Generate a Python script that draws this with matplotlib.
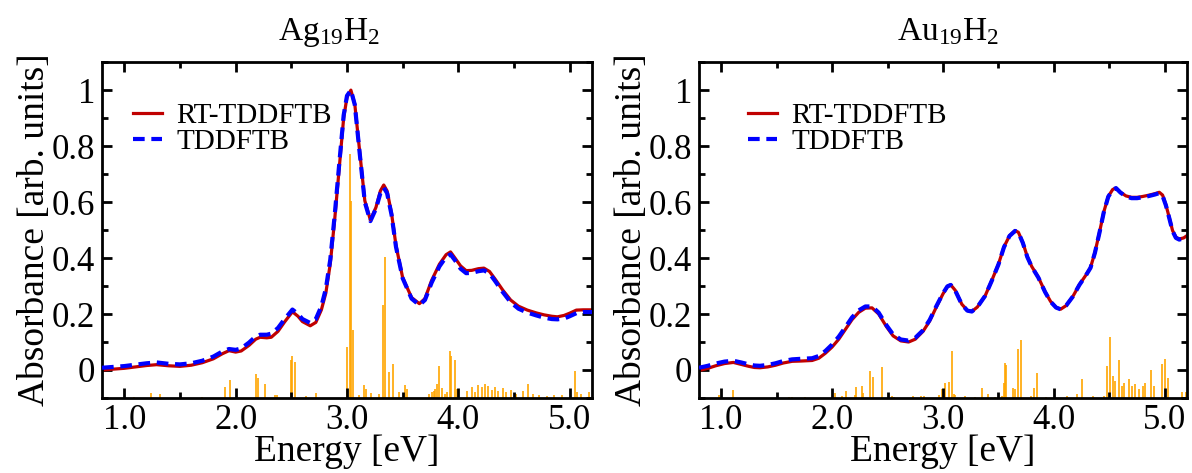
import numpy as np
import matplotlib
matplotlib.use("Agg")
import matplotlib.pyplot as plt
from matplotlib.ticker import MultipleLocator, FuncFormatter

plt.rcParams["font.family"] = ["Liberation Serif", "DejaVu Serif"]
plt.rcParams["mathtext.fontset"] = "custom"
plt.rcParams["mathtext.rm"] = "Liberation Serif"
plt.rcParams["mathtext.it"] = "Liberation Serif:italic"

# ---- Ag19H2 spectra ----
ag_e = [0.80, 0.90, 1.00, 1.10, 1.20, 1.29, 1.40, 1.50, 1.60, 1.70, 1.80, 1.88, 1.94,
        2.00, 2.05, 2.12, 2.18, 2.22, 2.28, 2.32, 2.38, 2.44, 2.51, 2.56, 2.60, 2.67,
        2.72, 2.77, 2.81, 2.85, 2.89, 2.93, 2.97, 3.00, 3.035, 3.07, 3.11, 3.16, 3.21,
        3.26, 3.30, 3.33, 3.36, 3.40, 3.44, 3.50, 3.58, 3.65, 3.70, 3.76, 3.83, 3.89,
        3.93, 3.97, 4.02, 4.07, 4.12, 4.18, 4.23, 4.28, 4.33, 4.40, 4.47, 4.54, 4.62,
        4.70, 4.77, 4.84, 4.89, 4.95, 5.00, 5.06, 5.12, 5.20]
ag_rt = [0.000, 0.003, 0.006, 0.011, 0.016, 0.019, 0.015, 0.013, 0.017, 0.026, 0.040, 0.058, 0.069,
         0.064, 0.068, 0.088, 0.110, 0.117, 0.115, 0.117, 0.138, 0.172, 0.208, 0.192, 0.173, 0.158,
         0.170, 0.215, 0.275, 0.380, 0.540, 0.720, 0.900, 0.975, 1.000, 0.950, 0.796, 0.605, 0.536,
         0.581, 0.640, 0.661, 0.640, 0.560, 0.445, 0.330, 0.259, 0.237, 0.255, 0.320, 0.378, 0.412,
         0.422, 0.400, 0.372, 0.355, 0.356, 0.362, 0.364, 0.352, 0.325, 0.285, 0.250, 0.228, 0.214,
         0.204, 0.197, 0.192, 0.190, 0.195, 0.203, 0.214, 0.215, 0.215]
ag_lr = [0.008, 0.011, 0.014, 0.019, 0.024, 0.027, 0.022, 0.020, 0.024, 0.033, 0.048, 0.066, 0.075,
         0.072, 0.077, 0.098, 0.120, 0.126, 0.126, 0.130, 0.150, 0.182, 0.216, 0.200, 0.182, 0.168,
         0.182, 0.228, 0.290, 0.395, 0.555, 0.735, 0.910, 0.980, 1.000, 0.948, 0.790, 0.600, 0.532,
         0.576, 0.632, 0.652, 0.632, 0.555, 0.440, 0.328, 0.255, 0.232, 0.250, 0.312, 0.370, 0.404,
         0.413, 0.392, 0.362, 0.346, 0.347, 0.353, 0.356, 0.345, 0.318, 0.278, 0.242, 0.219, 0.205,
         0.195, 0.187, 0.182, 0.181, 0.184, 0.192, 0.203, 0.207, 0.207]

ag_stick_e = [1.09, 1.24, 1.32, 1.70, 1.90, 1.95, 2.18, 2.20, 2.26, 2.35, 2.37, 2.50, 2.51, 2.53,
              2.63, 2.72, 3.00, 3.024, 3.039, 3.057, 3.105, 3.15, 3.17, 3.22, 3.29, 3.32, 3.345,
              3.375, 3.41, 3.47, 3.525, 3.535, 3.74, 3.76, 3.78, 3.79, 3.81, 3.83, 3.85, 3.88,
              3.895, 3.925, 3.934, 3.97, 3.985, 4.08, 4.12, 4.15, 4.18, 4.21, 4.24, 4.27, 4.30,
              4.33, 4.36, 4.40, 4.43, 4.47, 4.52, 4.58, 4.63, 4.67, 4.72, 4.80, 4.86, 4.93,
              5.05, 5.07, 5.10, 5.17]
ag_stick_top = [-0.097, -0.082, -0.085, -0.097, -0.061, -0.037, -0.016, -0.027, -0.051, -0.088,
                -0.088, 0.036, 0.049, 0.029, -0.093, -0.081, 0.082, 0.772, 0.603, 0.142, -0.090,
                -0.054, -0.069, -0.081, -0.087, 0.231, 0.402, -0.006, 0.020, -0.078, -0.054,
                -0.069, -0.085, -0.080, -0.075, -0.069, -0.050, 0.014, -0.064, -0.085, -0.080,
                0.068, 0.050, 0.036, -0.069, -0.075, -0.062, -0.080, -0.055, -0.060, -0.050,
                -0.058, -0.070, -0.060, -0.075, -0.065, -0.080, -0.070, -0.085, -0.075, -0.051,
                -0.085, -0.090, -0.092, -0.090, -0.088, -0.004, -0.080, -0.085, -0.080]

# ---- Au19H2 spectra ----
au_e = [0.80, 0.88, 0.95, 1.03, 1.11, 1.18, 1.25, 1.30, 1.35, 1.42, 1.49, 1.56, 1.64, 1.72,
        1.82, 1.88, 1.94, 2.00, 2.06, 2.12, 2.18, 2.24, 2.30, 2.36, 2.42, 2.49, 2.55, 2.62,
        2.69, 2.75, 2.82, 2.88, 2.94, 3.00, 3.04, 3.07, 3.11, 3.17, 3.22, 3.26, 3.31, 3.38,
        3.44, 3.50, 3.55, 3.60, 3.65, 3.68, 3.72, 3.76, 3.80, 3.86, 3.92, 3.97, 4.02, 4.06,
        4.11, 4.17, 4.23, 4.29, 4.33, 4.37, 4.41, 4.45, 4.49, 4.53, 4.56, 4.60, 4.65, 4.70,
        4.75, 4.80, 4.86, 4.91, 4.95, 4.98, 5.01, 5.04, 5.07, 5.10, 5.13, 5.17, 5.20]
au_rt = [-0.002, 0.006, 0.015, 0.023, 0.027, 0.020, 0.013, 0.009, 0.008, 0.011, 0.017, 0.025,
         0.031, 0.032, 0.034, 0.042, 0.060, 0.082, 0.110, 0.145, 0.180, 0.206, 0.221, 0.222,
         0.200, 0.155, 0.122, 0.104, 0.100, 0.110, 0.138, 0.175, 0.225, 0.272, 0.298, 0.304,
         0.285, 0.235, 0.213, 0.209, 0.225, 0.265, 0.320, 0.378, 0.440, 0.480, 0.498, 0.492,
         0.455, 0.405, 0.370, 0.331, 0.280, 0.245, 0.224, 0.217, 0.230, 0.262, 0.305, 0.340,
         0.366, 0.420, 0.490, 0.565, 0.620, 0.645, 0.650, 0.635, 0.622, 0.617, 0.617, 0.620,
         0.625, 0.630, 0.635, 0.625, 0.590, 0.545, 0.498, 0.475, 0.468, 0.472, 0.480]
au_lr = [0.008, 0.015, 0.023, 0.030, 0.033, 0.027, 0.020, 0.016, 0.015, 0.018, 0.024, 0.032,
         0.038, 0.040, 0.042, 0.050, 0.068, 0.091, 0.119, 0.153, 0.188, 0.213, 0.227, 0.227,
         0.205, 0.160, 0.127, 0.109, 0.105, 0.115, 0.142, 0.179, 0.228, 0.274, 0.299, 0.304,
         0.284, 0.234, 0.212, 0.209, 0.225, 0.265, 0.319, 0.377, 0.439, 0.479, 0.497, 0.491,
         0.454, 0.404, 0.369, 0.330, 0.279, 0.244, 0.223, 0.217, 0.230, 0.262, 0.304, 0.339,
         0.365, 0.419, 0.489, 0.564, 0.619, 0.644, 0.650, 0.634, 0.620, 0.614, 0.614, 0.617,
         0.622, 0.627, 0.632, 0.622, 0.588, 0.543, 0.496, 0.472, 0.466, 0.470, 0.478]

au_stick_e = [0.976, 1.11, 1.61, 1.64, 1.76, 2.03, 2.09, 2.13, 2.21, 2.22, 2.27, 2.28, 2.34,
              2.37, 2.45, 2.54, 2.56, 2.73, 2.80, 2.83, 2.96, 2.99, 3.02, 3.05, 3.08, 3.10,
              3.11, 3.20, 3.29, 3.35, 3.41, 3.47, 3.53, 3.55, 3.56, 3.57, 3.63, 3.65, 3.68,
              3.70, 3.79, 3.82, 3.85, 3.925, 4.12, 4.21, 4.25, 4.35, 4.45, 4.48, 4.51, 4.535,
              4.55, 4.585, 4.61, 4.63, 4.68, 4.705, 4.735, 4.765, 4.80, 4.825, 4.875, 4.90,
              4.975, 5.00, 5.03, 5.155, 5.19]
au_stick_top = [-0.091, -0.070, -0.095, -0.095, -0.097, -0.082, -0.093, -0.076, -0.088, -0.062,
                -0.058, -0.082, -0.002, -0.026, 0.010, -0.093, -0.095, -0.093, -0.093, -0.093,
                -0.088, -0.068, -0.045, -0.042, 0.068, -0.086, -0.088, -0.094, -0.096, -0.063,
                -0.084, -0.095, -0.092, -0.045, 0.026, 0.018, -0.063, -0.069, 0.074, 0.106,
                -0.092, -0.063, -0.010, -0.095, -0.092, -0.086, -0.031, -0.092, -0.092, 0.014,
                0.119, -0.021, -0.039, 0.036, -0.057, -0.045, -0.033, -0.057, -0.051, -0.069,
                -0.057, -0.045, -0.001, -0.057, 0.020, 0.038, -0.027, -0.080, -0.080]

panels = [
    ("Ag$_{\\mathrm{19}}$H$_{\\mathrm{2}}$", 0.463, ag_e, ag_rt, ag_lr, ag_stick_e, ag_stick_top, (0.063, 0.880)),
    ("Au$_{\\mathrm{19}}$H$_{\\mathrm{2}}$", 0.51, au_e, au_rt, au_lr, au_stick_e, au_stick_top, (0.10, 0.880)),
]

fig = plt.figure(figsize=(11.92, 4.73), dpi=100)
axes_pos = [[0.0856, 0.1586, 0.411, 0.710], [0.5864, 0.1586, 0.4094, 0.710]]


def yfmt(v, pos):
    if abs(v - round(v)) < 1e-9:
        return "%d" % round(v)
    return "%.1f" % v


for pos, (title, tx, e, rt, lr, se, st, leg_xy) in zip(axes_pos, panels):
    ax = fig.add_axes(pos)
    ax.vlines(se, -0.1, st, color="#FFA500", lw=1.2, zorder=1)
    ax.plot(e, rt, color="#C00000", lw=2.3, label="RT-TDDFTB", zorder=2)
    ax.plot(e, lr, color="#0000FF", lw=3.0, ls=(0, (2.8, 1.6)), label="TDDFTB", zorder=3)
    ax.set_xlim(0.8, 5.2)
    ax.set_ylim(-0.1, 1.1)
    ax.xaxis.set_major_locator(MultipleLocator(1.0))
    ax.xaxis.set_minor_locator(MultipleLocator(0.5))
    ax.yaxis.set_major_locator(MultipleLocator(0.2))
    ax.yaxis.set_minor_locator(MultipleLocator(0.1))
    ax.xaxis.set_major_formatter(FuncFormatter(lambda v, p: "%.1f" % v))
    ax.yaxis.set_major_formatter(FuncFormatter(yfmt))
    ax.tick_params(which="both", direction="in", top=True, right=True, labelsize=25, width=2,
                   labelfontfamily="Liberation Serif")
    ax.tick_params(which="major", length=7, pad=5)
    ax.tick_params(axis="x", which="major", pad=4)
    ax.tick_params(which="minor", length=4)
    for s in ax.spines.values():
        s.set_linewidth(2)
    ax.set_xlabel("Energy [eV]", fontsize=27)
    ax.xaxis.set_label_coords(0.5, -0.108)
    ax.set_ylabel("Absorbance [arb. units]", fontsize=27, labelpad=0)
    ax.set_title(title, fontsize=24, pad=16, x=tx)
    ax.legend(loc="upper left", bbox_to_anchor=leg_xy, frameon=False, fontsize=21,
              handlelength=1.0, handletextpad=0.5, labelspacing=0.0,
              borderpad=0, borderaxespad=0)

fig.savefig("out.png", dpi=100)
